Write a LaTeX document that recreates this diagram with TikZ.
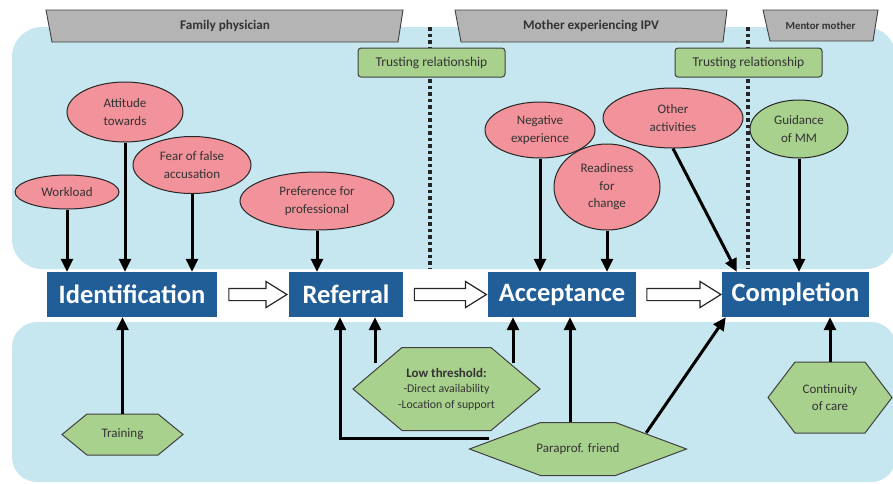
\documentclass[tikz,border=0pt]{standalone}
\usepackage{fontspec}
\setmainfont{Carlito}
\usetikzlibrary{arrows.meta,calc,shapes.geometric,shapes.arrows}

\definecolor{regionblue}{HTML}{C6E7F0}
\definecolor{stageblue}{HTML}{215E98}
\definecolor{barrierred}{HTML}{F2929B}
\definecolor{supportgreen}{HTML}{A9D18E}
\definecolor{headgray}{HTML}{B4B4B4}
\definecolor{textgray}{HTML}{333333}

\tikzset{
  region/.style={fill=regionblue, rounded corners=30pt},
  header/.style={draw=black!75, fill=headgray, line width=0.9pt},
  headtext/.style={font=\fontsize{13.2}{15}\selectfont\bfseries, text=textgray},
  stage/.style={fill=stageblue, text=white, minimum height=45pt, inner sep=0pt,
    font=\fontsize{26.5}{30}\selectfont\bfseries},
  barrier/.style={ellipse, draw=black!85, line width=1pt, fill=barrierred, inner sep=0pt,
    align=center, text=textgray, font=\fontsize{13}{17.5}\selectfont},
  facilitator/.style={barrier, fill=supportgreen},
  trust/.style={draw=black!75, line width=1pt, fill=supportgreen, rounded corners=3pt,
    minimum width=147pt, minimum height=29pt, text=textgray, font=\fontsize{13.5}{16}\selectfont},
  hexline/.style={draw=black!75, line width=1pt, fill=supportgreen},
  hextext/.style={align=center, inner sep=0pt, text=textgray, font=\fontsize{13}{16.5}\selectfont},
  arr/.style={line width=3pt, -{Triangle[length=13pt,width=12pt]}},
  stepflow/.style={single arrow, draw=black!85, line width=1.2pt, fill=white, inner xsep=0pt,
    inner ysep=5.5pt, single arrow head extend=7pt, single arrow tip angle=64},
  divider/.style={line width=3.5pt, dash pattern=on 3.5pt off 3pt, black!85}
}

% hexagon: (name)(x,y)(half width:half height:point depth){text}
\def\hexnode(#1)(#2,#3)(#4:#5:#6)#7{%
  \draw[hexline] (#2-#4,#3) -- (#2-#4+#6,#3-#5) -- (#2+#4-#6,#3-#5) -- (#2+#4,#3)
    -- (#2+#4-#6,#3+#5) -- (#2-#4+#6,#3+#5) -- cycle;
  \node[hextext, minimum width={2*#4pt}, minimum height={2*#5pt}] (#1) at (#2,#3) {#7};}

\begin{document}
\begin{tikzpicture}[x=1pt, y=-1pt]
  \useasboundingbox (0,0) rectangle (893,483);

  %%%%% regions %%%%%
  \fill[region] (12,27) rectangle (896,269);
  \fill[region, rounded corners=25pt] (12,322) rectangle (896,482);

  \draw[divider] (430,27) -- (430,268);
  \draw[divider] (748,27) -- (748,268);

  %%%%% actors %%%%%
  \draw[header] (46,10) -- (403,10) -- (398,42) -- (52,42) -- cycle;
  \node[headtext] (hfam) at (225,26) {Family physician};
  \draw[header] (455,10) -- (727,10) -- (723,42) -- (461,42) -- cycle;
  \node[headtext] (hmoth) at (591,26) {Mother experiencing IPV};
  \draw[header] (763,10) -- (878,10) -- (873,41) -- (770,41) -- cycle;
  \node[headtext, font=\fontsize{10.8}{13}\selectfont\bfseries] (hment) at (820.5,26) {Mentor mother};

  \node[trust] (trust1) at (431.5,62.5) {Trusting relationship};
  \node[trust] (trust2) at (748.5,62.5) {Trusting relationship};

  %%%%% barriers and facilitators above %%%%%
  \node[barrier, minimum width=104pt, minimum height=34pt] (work) at (67,192) {Workload};
  \node[barrier, minimum width=116pt, minimum height=60pt] (attit) at (125,112) {Attitude\\towards};
  \node[barrier, minimum width=118pt, minimum height=57pt] (fear) at (192,165) {Fear of false\\accusation};
  \node[barrier, minimum width=154pt, minimum height=58pt] (prefer) at (317,201) {Preference for\\professional};
  \node[barrier, minimum width=110pt, minimum height=56pt] (negat) at (540,130) {Negative\\experience};
  \node[barrier, minimum width=106pt, minimum height=86pt] (ready) at (607,187) {Readiness\\for\\change};
  \node[barrier, minimum width=140pt, minimum height=60pt] (other) at (673,118) {Other\\activities};
  \node[facilitator, minimum width=98pt, minimum height=58pt] (guide) at (799,129) {Guidance\\of MM};

  %%%%% stages %%%%%
  \node[stage, minimum width=170pt] (ident) at (132,294.5) {Identification};
  \node[stage, minimum width=114pt] (refer) at (346,294.5) {Referral};
  \node[stage, minimum width=148pt] (accept) at (562,294.5) {Acceptance};
  \node[stage, minimum width=147pt] (comp) at (795.5,294.5) {Completion};

  \node[stepflow, minimum height=58pt] (flow1) at ($(ident.east)!0.5!(refer.west)$) {};
  \node[stepflow, minimum height=72pt] (flow2) at ($(refer.east)!0.5!(accept.west)$) {};
  \node[stepflow, minimum height=74pt] (flow3) at ($(accept.east)!0.5!(comp.west)$) {};

  %%%%% facilitators below %%%%%
  \hexnode(train)(122.5,434.5)(60.5:20.5:25){Training}
  \hexnode(lowthr)(446.5,389)(93.5:41.5:49){\textbf{Low threshold:}\\[-1pt]
    {\fontsize{11.8}{14}\selectfont -Direct availability}\\[-1pt]
    {\fontsize{11.8}{14}\selectfont -Location of support}}
  \hexnode(friend)(578,449)(108.5:26.5:71){Paraprof. friend}
  \hexnode(cont)(830,397.5)(62:35.5:27){Continuity\\of care}

  %%%%% influences %%%%%
  \draw[arr] (work.south) -- (work.south |- ident.north);
  \draw[arr] (attit.south) -- (attit.south |- ident.north);
  \draw[arr] (fear.south) -- (fear.south |- ident.north);
  \draw[arr] (prefer.south) -- (prefer.south |- refer.north);
  \draw[arr] (negat.south) -- (negat.south |- accept.north);
  \draw[arr] (ready.south) -- (ready.south |- accept.north);
  \draw[arr] (other.south) -- ($(comp.north west)+(15,0)$);
  \draw[arr] (guide.south) -- (guide.south |- comp.north);

  \draw[arr] (train.north) -- (train.north |- ident.south);
  \coordinate (lt1) at ($(lowthr.north)+(-71.5,16)$);
  \coordinate (lt2) at ($(lowthr.north)+(66.5,16)$);
  \draw[arr] (lt1) -- (lt1 |- refer.south);
  \draw[arr] (lt2) -- (lt2 |- accept.south);
  \coordinate (f0) at ($(friend.west)+(20,-11)$);
  \coordinate (r1) at ($(refer.south)+(-6,0)$);
  \draw[arr] (f0) -| (r1);
  \coordinate (f1) at ($(friend.north)+(-8,0)$);
  \draw[arr] (f1) -- (f1 |- accept.south);
  \coordinate (f2) at ($(friend.north east)+(-40.5,10.5)$);
  \draw[arr] (f2) -- ($(comp.south west)+(4,0)$);
  \draw[arr] (cont.north) -- (cont.north |- comp.south);
\end{tikzpicture}
\end{document}
